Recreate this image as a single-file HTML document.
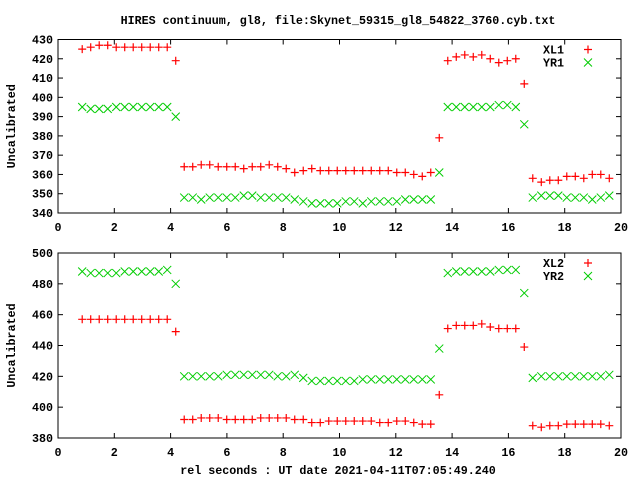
<!DOCTYPE html>
<html><head><meta charset="utf-8"><style>
body{margin:0;background:#fff;width:640px;height:480px;overflow:hidden}
svg text{font-family:"Liberation Mono",monospace;font-size:11.7px;font-weight:bold;fill:#000}
</style></head><body>
<svg id="c" width="640" height="480" xmlns="http://www.w3.org/2000/svg">
<text x="338" y="24" text-anchor="middle">HIRES continuum, gl8, file:Skynet_59315_gl8_54822_3760.cyb.txt</text>
<text x="338" y="474" text-anchor="middle">rel seconds : UT date 2021-04-11T07:05:49.240</text>
</svg>
<script>
const xL1=[425,426,427,427,426,426,426,426,426,426,426,419,364,364,365,365,364,364,364,363,364,364,365,364,363,361,362,363,362,362,362,362,362,362,362,362,362,361,361,360,359,361,379,419,421,422,421,422,420,418,419,420,407,358,356,357,357,359,359,358,360,360,358];
const yR1=[395,394,394,394,395,395,395,395,395,395,395,390,348,348,347,348,348,348,348,349,349,348,348,348,348,347,346,345,345,345,345,346,346,345,346,346,346,346,347,347,347,347,361,395,395,395,395,395,395,396,396,395,386,348,349,349,349,348,348,348,347,348,349];
const xL2=[457,457,457,457,457,457,457,457,457,457,457,449,392,392,393,393,393,392,392,392,392,393,393,393,393,392,392,390,390,391,391,391,391,391,391,390,390,391,391,390,389,389,408,451,453,453,453,454,452,451,451,451,439,388,387,388,388,389,389,389,389,389,388];
const yR2=[488,487,487,487,487,488,488,488,488,488,489,480,420,420,420,420,420,421,421,421,421,421,421,420,420,421,419,417,417,417,417,417,417,418,418,418,418,418,418,418,418,418,438,487,488,488,488,488,488,489,489,489,474,419,420,420,420,420,420,420,420,420,421];
const xTicks=[0,2,4,6,8,10,12,14,16,18,20];
const yTicks1=[340,350,360,370,380,390,400,410,420,430];
const yTicks2=[380,400,420,440,460,480,500];
const tStart=0.86, tStep=0.302;
const svg=document.getElementById('c');
const NS='http://www.w3.org/2000/svg';
function mk(tag,attrs){const e=document.createElementNS(NS,tag);for(const k in attrs)e.setAttribute(k,attrs[k]);svg.appendChild(e);return e;}
function panel(p){
  const L=58,R=621;
  const sx=v=>L+(v-0)/(20-0)*(R-L);
  const sy=v=>p.bot-(v-p.ymin)/(p.ymax-p.ymin)*(p.bot-p.top);
  let e=mk('rect',{x:L,y:p.top,width:R-L,height:p.bot-p.top,fill:'none',stroke:'#000','stroke-width':1});
  
  
  xTicks.forEach(t=>{
    const x=sx(t);
    mk('line',{x1:x,y1:p.bot,x2:x,y2:p.bot-5,stroke:'#000'});
    mk('line',{x1:x,y1:p.top,x2:x,y2:p.top+5,stroke:'#000'});
    const tx=mk('text',{x:x,y:p.bot+18,'text-anchor':'middle'});tx.textContent=t;
    
    
  });
  p.yt.forEach(t=>{
    const y=sy(t);
    mk('line',{x1:L,y1:y,x2:L+5,y2:y,stroke:'#000'});
    mk('line',{x1:R,y1:y,x2:R-5,y2:y,stroke:'#000'});
    const tx=mk('text',{x:L-5,y:y+4,'text-anchor':'end'});tx.textContent=t;
    
    
  });
  const yl=mk('text',{x:0,y:0,'text-anchor':'middle',transform:`translate(15,${(p.top+p.bot)/2}) rotate(-90)`});
  yl.textContent='Uncalibrated';
  
  
  function plus(x,y,name){const g=mk('path',{d:`M${x-4},${y}H${x+4}M${x},${y-4}V${y+4}`,stroke:'#f00','stroke-width':1.2,fill:'none'});
    
    }
  function cross(x,y,name){const g=mk('path',{d:`M${x-4},${y-4}L${x+4},${y+4}M${x-4},${y+4}L${x+4},${y-4}`,stroke:'#0c0','stroke-width':1,fill:'none'});
    
    }
  p.a.forEach((v,i)=>plus(sx(tStart+tStep*i),sy(v),p.an+'-point'));
  p.b.forEach((v,i)=>cross(sx(tStart+tStep*i),sy(v),p.bn+'-point'));
  const l1=mk('text',{x:543,y:p.top+14});l1.textContent=p.an;
  
  
  plus(588,p.top+10,p.id+'-legend-marker-'+p.an.toLowerCase());
  const l2=mk('text',{x:543,y:p.top+27});l2.textContent=p.bn;
  
  
  cross(588,p.top+23,p.id+'-legend-marker-'+p.bn.toLowerCase());
}
panel({id:'top',top:39.5,bot:213,ymin:340,ymax:430,yt:yTicks1,a:xL1,b:yR1,an:'XL1',bn:'YR1'});
panel({id:'bottom',top:253,bot:438,ymin:380,ymax:500,yt:yTicks2,a:xL2,b:yR2,an:'XL2',bn:'YR2'});
</script>
</body></html>
